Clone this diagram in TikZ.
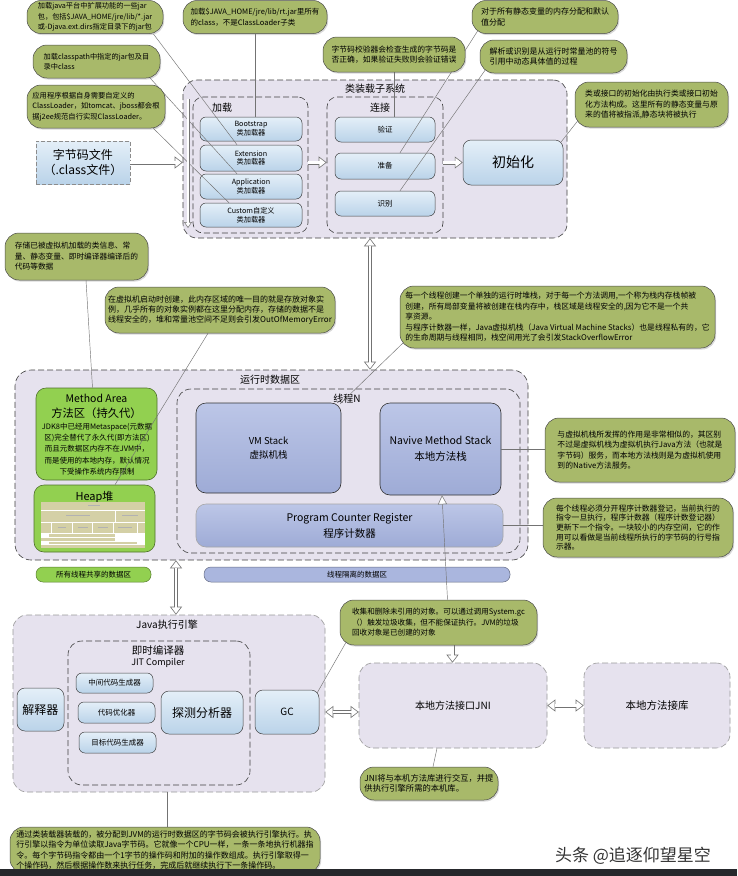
\documentclass[tikz,border=0pt]{standalone}
\usepackage{fontspec}
\setmainfont{Noto Sans CJK SC}
\usetikzlibrary{arrows.meta,shadows}
\pgfdeclarelayer{bg}
\pgfdeclarelayer{lines}
\pgfdeclarelayer{fg}
\pgfsetlayers{bg,main,lines,fg}
\definecolor{cg}{RGB}{168,185,106}
\definecolor{lav}{RGB}{230,226,238}
\definecolor{lbtop}{RGB}{228,239,248}
\definecolor{lbbot}{RGB}{186,211,233}
\definecolor{rbtop}{RGB}{188,198,231}
\definecolor{rbbot}{RGB}{158,171,214}
\definecolor{mgreen}{RGB}{146,208,80}
\definecolor{pblue}{RGB}{170,182,222}
\definecolor{tanc}{RGB}{212,208,166}
\definecolor{barc}{RGB}{38,40,44}
\tikzset{
 callout/.style={draw=black!70, line width=0.5pt, fill=cg, rounded corners=14pt,
   drop shadow={shadow xshift=1.2pt,shadow yshift=-1.5pt,opacity=0.3},
   inner sep=0pt, align=left, font=\fontsize{#1}{10.5}\selectfont},
 callout/.default=7.8,
 cont/.style={draw=black!75, line width=0.6pt, dash pattern=on 6pt off 3pt, fill=lav, rounded corners=14pt, inner sep=0pt},
 contl/.style={cont, draw=black!40},
 lbox/.style={draw=black!75, line width=0.5pt, top color=lbtop, bottom color=lbbot, rounded corners=6pt, align=center, inner sep=1pt, font=\fontsize{7.2}{9}\selectfont},
 rbox/.style={draw=black!80, line width=0.6pt, top color=rbtop, bottom color=rbbot, rounded corners=10pt, align=center, inner sep=1pt},
 gbox/.style={draw=black!45!mgreen, line width=0.6pt, fill=mgreen, rounded corners=10pt, inner sep=0pt},
 ttl/.style={inner sep=0pt, font=\fontsize{10}{12}\selectfont},
 pill/.style={draw=#1!60!black, line width=0.5pt, fill=#1, rounded corners=7pt, inner sep=0pt, font=\fontsize{7.5}{9}\selectfont},
 cline/.style={draw=black!55, line width=0.45pt},
 htip/.tip={Triangle[fill=white,length=8pt,width=12pt,line width=0.6pt]},
 hstip/.tip={Triangle[fill=white,length=6pt,width=8pt,line width=0.5pt]},
 harrow/.style={draw=black!55, line width=4pt, -htip, postaction={draw=white, line width=2.6pt, -, shorten >=7.2pt}},
 hsarrow/.style={draw=black!55, line width=3pt, -hstip, postaction={draw=white, line width=1.8pt, -, shorten >=5.4pt}},
 hdarrow/.style={draw=black!55, line width=4pt, htip-htip, postaction={draw=white, line width=2.6pt, -, shorten >=7.2pt, shorten <=7.2pt}},
 otip/.style={cline, -{Triangle[fill=white,length=9pt,width=9pt,line width=0.5pt]}},
}
\begin{document}
\begin{tikzpicture}[x=1pt,y=-1pt]
\useasboundingbox (0,0) rectangle (737,876);
\begin{pgfonlayer}{bg}
\fill[white] (0,0) rectangle (737,876);
\node[cont, minimum width=384pt, minimum height=158pt] (sub) at (375,159) {};
\node[cont, minimum width=115pt, minimum height=136pt, rounded corners=10pt] (load) at (250.5,165) {};
\node[cont, minimum width=116pt, minimum height=136pt, rounded corners=10pt] (link) at (385,165) {};
\node[cont, minimum width=513pt, minimum height=190pt, rounded corners=16pt] (rt) at (271.5,465) {};
\node[cont, minimum width=343pt, minimum height=164pt] (thr) at (348.5,471) {};
\node[contl, minimum width=312pt, minimum height=177pt] (exe) at (169,703.5) {};
\node[cont, minimum width=182pt, minimum height=144pt] (jit) at (159,713) {};
\node[contl, minimum width=188pt, minimum height=85pt, font=\fontsize{10}{12}\selectfont] (jni) at (453,705.5) {本地方法接口JNI};
\node[contl, minimum width=146pt, minimum height=85pt, font=\fontsize{10.5}{12}\selectfont] (lib) at (657,705.5) {本地方法接库};
\end{pgfonlayer}

% titles
\node[ttl] (tsub) at (375,89) {类装载子系统};
\node[ttl] (tload) at (222,108) {加载};
\node[ttl] (tlink) at (380,108) {连接};
\node[ttl] (trt) at (270,380) {运行时数据区};
\node[ttl] (tthr) at (347,399) {线程N};
\node[ttl] (texe) at (167,625) {Java执行引擎};
\node[ttl, font=\fontsize{10.5}{12}\selectfont] (tjit1) at (158,650) {即时编译器};
\node[ttl, font=\fontsize{9}{11}\selectfont] (tjit2) at (158,663) {JIT Compiler};

% class loader boxes
\node[lbox, minimum width=102pt, minimum height=24pt] (boot) at (251,129) {Bootstrap\\类加载器};
\node[lbox, minimum width=102pt, minimum height=26pt] (ext) at (251,158) {Extension\\类加载器};
\node[lbox, minimum width=102pt, minimum height=25pt] (app) at (251,186.5) {Application\\类加载器};
\node[lbox, minimum width=102pt, minimum height=24pt] (cust) at (251,215) {Custom自定义\\类加载器};
\node[lbox, minimum width=100pt, minimum height=25pt, font=\fontsize{7.5}{9}\selectfont] (yz) at (385,129.5) {验证};
\node[lbox, minimum width=100pt, minimum height=26pt, font=\fontsize{7.5}{9}\selectfont] (zb) at (385,166) {准备};
\node[lbox, minimum width=100pt, minimum height=25pt, font=\fontsize{7.5}{9}\selectfont] (sb) at (385,203.5) {识别};
\node[lbox, minimum width=100pt, minimum height=45pt, rounded corners=8pt, font=\fontsize{14}{16}\selectfont] (init) at (513,162.5) {初始化};
\node[lbox, draw=black!45, dash pattern=on 4pt off 2pt, rounded corners=0pt, minimum width=94pt, minimum height=43pt, font=\fontsize{12}{15}\selectfont] (bc) at (83,162.5) {字节码文件\\（.class文件）};

% runtime data area
\node[rbox, minimum width=145pt, minimum height=90pt, font=\fontsize{9.5}{14}\selectfont] (vm) at (268.5,448) {VM Stack\\虚拟机栈};
\node[rbox, minimum width=121pt, minimum height=92pt, font=\fontsize{10.5}{16}\selectfont] (nat) at (440.5,449) {Navive Method Stack\\本地方法栈};
\node[rbox, draw=black!35, minimum width=307pt, minimum height=43pt, font=\fontsize{10.5}{16}\selectfont] (pcr) at (349.5,525.5) {Program Counter Register\\程序计数器};
\node[gbox, minimum width=121pt, minimum height=92pt] (ma) at (96.5,434) {};
\node[inner sep=0pt, font=\fontsize{10.5}{12}\selectfont] (tma1) at (96.5,398) {Method Area};
\node[inner sep=0pt, font=\fontsize{11.3}{13}\selectfont] (tma2) at (96.5,413) {方法区（持久代）};
\node[inner sep=0pt, align=center, font=\fontsize{7.5}{11.3}\selectfont] (tma3) at (97,449) {JDK8中已经用Metaspace(元数据\\区)完全替代了永久代(即方法区)\\而且元数据区内存不在JVM中，\\而是使用的本地内存，默认情况\\下受操作系统内存限制};
\node[gbox, minimum width=121pt, minimum height=67pt] (heap) at (94.5,518.5) {};
\node[inner sep=0pt, font=\fontsize{11}{13}\selectfont] (thp) at (94.5,497) {Heap堆};
% heap picture
\fill[tanc] (41,502) rectangle (145,548);
\fill[white] (41,533) rectangle (49,537);
\fill[white] (115,533) rectangle (145,541);
\fill[white] (41,541) rectangle (49,544);
\fill[white] (137,541) rectangle (145,544);
\draw[white, line width=0.5pt] (41,510) -- (145,510) (41,522) -- (145,522) (41,533) -- (145,533)
  (41,537) -- (145,537) (41,541) -- (145,541) (41,544) -- (145,544)
  (115,510) -- (115,522) (51,522) -- (51,533) (72,522) -- (72,533) (92,522) -- (92,533)
  (113,522) -- (113,533) (137,522) -- (137,533)
  (122,533) -- (122,541) (130,533) -- (130,541) (138,533) -- (138,541);
\draw[black!30, line width=0.3pt] (88,505) -- (100,505) (66,515) -- (90,515) (122,515) -- (138,515)
  (58,527) -- (66,527) (78,527) -- (88,527) (98,527) -- (108,527) (118,527) -- (132,527);

\node[pill=mgreen, minimum width=115pt, minimum height=15pt] (pl1) at (93.5,574.5) {所有线程共享的数据区};
\node[pill=pblue, minimum width=306pt, minimum height=15pt] (pl2) at (357,574.5) {线程隔离的数据区};

% execution engine
\node[lbox, minimum width=47pt, minimum height=43pt, rounded corners=8pt, font=\fontsize{12}{14}\selectfont] (jx) at (40.5,709.5) {解释器};
\node[lbox, minimum width=77pt, minimum height=20pt, font=\fontsize{7.5}{9}\selectfont] (zj) at (114.5,683) {中间代码生成器};
\node[lbox, minimum width=77pt, minimum height=21pt, font=\fontsize{7.5}{9}\selectfont] (dy) at (116.5,712.5) {代码优化器};
\node[lbox, minimum width=77pt, minimum height=21pt, font=\fontsize{7.5}{9}\selectfont] (mb) at (117.5,742.5) {目标代码生成器};
\node[lbox, minimum width=82pt, minimum height=43pt, rounded corners=8pt, font=\fontsize{12}{14}\selectfont] (tc) at (202,712.5) {探测分析器};
\node[lbox, minimum width=64pt, minimum height=44pt, rounded corners=8pt, font=\fontsize{10}{12}\selectfont] (gc) at (287,712) {GC};

% callouts
\begin{pgfonlayer}{fg}
\node[callout=7.2, minimum width=136pt, minimum height=33pt] (c1) at (95,17) {加载java平台中扩展功能的一些jar\\包，包括\$JAVA\_HOME/jre/lib/*.jar\\或-Djava.ext.dirs指定目录下的jar包};
\node[callout=7.2, minimum width=127pt, minimum height=33pt] (c2) at (96.5,61.5) {加载classpath中指定的jar包及目\\录中class};
\node[callout=7.3, minimum width=138pt, minimum height=43pt] (c3) at (96,106.5) {应用程序根据自身需要自定义的\\ClassLoader，如tomcat、jboss都会根\\据j2ee规范自行实现ClassLoader。};
\node[callout=7.5, minimum width=144pt, minimum height=33pt] (c4) at (255,17) {加载\$JAVA\_HOME/jre/lib/rt.jar里所有\\的class，不是ClassLoader子类};
\node[callout, minimum width=142pt, minimum height=35pt] (c5) at (394,54.5) {字节码校验器会检查生成的字节码是\\否正确，如果验证失败则会验证错误};
\node[callout=8, minimum width=146pt, minimum height=33pt] (c6) at (545,17) {对于所有静态变量的内存分配和默认\\值分配};
\node[callout=8, minimum width=147pt, minimum height=33pt] (c7) at (553.5,56.5) {解析或识别是从运行时常量池的符号\\引用中动态具体值的过程};
\node[callout, minimum width=153pt, minimum height=45pt] (c8) at (651.5,104.5) {类或接口的初始化由执行类或接口初始\\化方法构成。这里所有的静态变量与原\\来的值将被指派,静态块将被执行};
\node[callout=7.7, minimum width=143pt, minimum height=47pt] (c9) at (76.5,256.5) {存储已被虚拟机加载的类信息、常\\量、静态变量、即时编译器编译后的\\代码等数据};
\node[callout, font=\fontsize{8}{9.8}\selectfont, minimum width=230pt, minimum height=46pt] (c10) at (220,310) {在虚拟机启动时创建，此内存区域的唯一目的就是存放对象实\\例，几乎所有的对象实例都在这里分配内存，存储的数据不是\\线程安全的，堆和常量池空间不足则会引发OutOfMemoryError};
\node[callout, minimum width=315pt, minimum height=62pt] (c11) at (557.5,317) {每一个线程创建一个单独的运行时堆栈，对于每一个方法调用,一个称为栈内存栈帧被\\创建，所有局部变量将被创建在栈内存中，栈区域是线程安全的,因为它不是一个共\\享资源。\\与程序计数器一样，Java虚拟机栈（Java Virtual Machine Stacks）也是线程私有的，它\\的生命周期与线程相同，栈空间用光了会引发StackOverflowError};
\node[callout=7.6, minimum width=197pt, minimum height=45pt] (c12) at (438.5,622.5) {收集和删除未引用的对象。可以通过调用System.gc\\（）触发垃圾收集，但不能保证执行。JVM的垃圾\\回收对象是已创建的对象};
\node[callout, minimum width=190pt, minimum height=64pt] (c13) at (640,450) {与虚拟机栈所发挥的作用是非常相似的，其区别\\不过是虚拟机栈为虚拟机执行Java方法（也就是\\字节码）服务，而本地方法栈则是为虚拟机使用\\到的Native方法服务。};
\node[callout, font=\fontsize{7.8}{9.6}\selectfont, minimum width=190pt, minimum height=59pt] (c14) at (638,527.5) {每个线程必须分开程序计数器登记，当前执行的\\指令一旦执行，程序计数器（程序计数登记器）\\更新下一个指令。一块较小的内存空间，它的作\\用可以看做是当前线程所执行的字节码的行号指\\示器。};
\node[callout=8.3, minimum width=138pt, minimum height=33pt] (c15) at (429,783.5) {JNI将与本机方法库进行交互，并提\\供执行引擎所需的本机库。};
\node[callout=8, minimum width=310pt, minimum height=46pt] (c16) at (165,850) {通过类装载器装载的，被分配到JVM的运行时数据区的字节码会被执行引擎执行。执\\行引擎以指令为单位读取Java字节码。它就像一个CPU一样，一条一条地执行机器指\\令。每个字节码指令都由一个1字节的操作码和附加的操作数组成。执行引擎取得一\\个操作码，然后根据操作数来执行任务，完成后就继续执行下一条操作码。};
\fill[barc] (0,869) rectangle (737,876);
\node[inner sep=0pt, text=black!80, font=\fontsize{17}{19}\selectfont] (wm) at (633,856) {头条 @追逐仰望星空};
\end{pgfonlayer}

% connectors
\begin{pgfonlayer}{lines}
\draw[cline] ([xshift=-10pt]c1.south east) -- ([xshift=-14pt]ext.north);
\draw[cline] ([xshift=-10pt]c2.south east) -- ([xshift=-14pt]app.north);
\draw[cline] ([xshift=-12pt]c3.south east) -- ([xshift=-22pt]cust.north);
\draw[cline] (c4.south) -- (c4.south |- boot.north);
\draw[cline] (c5.south) -- (c5.south |- yz.north);
\draw[cline] ([xshift=6pt,yshift=3pt]c6.south west) -- ([xshift=15pt]zb.north);
\draw[cline] ([xshift=6pt,yshift=4pt]c7.south west) -- ([xshift=15pt]sb.north);
\draw[cline] ([xshift=5pt,yshift=9pt]c8.south west) -- ([xshift=-2pt,yshift=-2pt]init.north east);
\draw[cline] ([xshift=9.5pt]c9.south) -- ([xshift=-4pt]ma.north);
\draw[cline] ([xshift=-12pt]c10.south) -- ([xshift=20.5pt]heap.north);
\draw[cline] ([xshift=4pt,yshift=6pt]c11.south west) -- ([xshift=-1pt,yshift=-1pt]vm.north east);
\draw[cline] (nat.east) -- (nat.east -| c13.west);
\draw[cline] (pcr.east) -- (pcr.east -| c14.west);
\draw[cline] ([xshift=8pt,yshift=6pt]c12.south west) -- ([xshift=-2pt,yshift=-3pt]gc.north east);
\draw[cline] ([xshift=-16pt]jni.south) -- ([xshift=4pt]c15.north);
\draw[cline] ([xshift=-2pt]exe.south) -- ([xshift=-2pt]exe.south |- c16.north);
\draw[otip] ([xshift=9pt]c12.north) -- ([xshift=1.5pt]nat.south);
\coordinate (va1) at (188,99);
\coordinate (va2) at (188,228);
\draw[harrow] (bc.east) -- (bc.east -| sub.west);
\draw[hsarrow] (va1) -- (va2);
\draw[harrow] (load.east |- bc.east) -- (link.west |- bc.east);
\draw[harrow] (link.east |- init.west) -- (init.west);
\draw[hdarrow] ([xshift=-5pt]sub.south) -- ([xshift=-5pt]sub.south |- rt.north);
\draw[hdarrow] ([xshift=7pt]exe.north |- rt.south) -- ([xshift=7pt]exe.north);
\draw[hdarrow] (exe.east |- gc.east) -- (jni.west |- gc.east);
\draw[hdarrow] (jni.east) -- (lib.west);
\draw[harrow] ([xshift=14pt]c12.south) -- ([xshift=14pt]c12.south |- jni.north);
\end{pgfonlayer}
\end{tikzpicture}
\end{document}
